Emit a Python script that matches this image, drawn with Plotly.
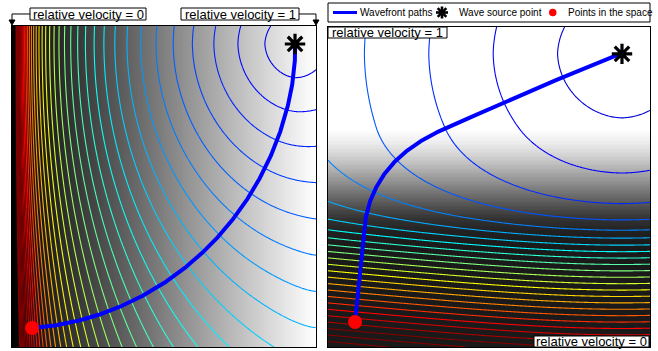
import numpy as np
import plotly.graph_objects as go

# ---------------- data ----------------
# Left panel: relative velocity varies along x (0 at left edge, 1 at right edge)
left_vel_x = [0.0, 1.0]
left_vel = [0.0, 1.0]
left_source = [0.931, 0.944]
left_point = [0.066, 0.059]
left_level_step = 0.113
left_level_max = 4.5
left_color_lo, left_color_hi = -0.3, 3.7

# Right panel: relative velocity varies along y (slow at bottom, 1 at top)
right_vel_y = [0.00, 0.30, 0.33, 0.36, 0.40, 0.44, 0.48, 0.52, 0.56, 0.60, 0.64, 0.68, 1.00]
right_vel = [0.10, 0.10, 0.11, 0.13, 0.20, 0.32, 0.45, 0.58, 0.71, 0.83, 0.93, 1.00, 1.00]
right_source = [0.913, 0.916]
right_point = [0.084, 0.078]
right_level_step = 0.2
right_level_max = 6.0
right_color_lo, right_color_hi = -0.2, 4.6

legend_names = ["Wavefront paths", "Wave source point", "Points in the space"]
label_left0 = "relative velocity = 0"
label_left1 = "relative velocity = 1"
label_right1 = "relative velocity = 1"
label_right0 = "relative velocity = 0"

# ---------------- computation ----------------
N = 241
grid = np.linspace(0.0, 1.0, N)
h = grid[1] - grid[0]
GX, GY = np.meshgrid(grid, grid)


def solve_eikonal(speed, src):
    s = 1.0 / np.maximum(speed, 0.002)
    T = np.full(s.shape, np.inf)
    d = np.hypot(GX - src[0], GY - src[1])
    fixed = d <= 2.5 * h
    j0 = int(round(src[1] / h)); i0 = int(round(src[0] / h))
    s0 = s[j0, i0]
    T[fixed] = d[fixed] * 0.5 * (s[fixed] + s0)
    hs = h * s
    for _ in range(6000):
        P = np.pad(T, 1, constant_values=np.inf)
        a = np.minimum(P[1:-1, :-2], P[1:-1, 2:])
        b = np.minimum(P[:-2, 1:-1], P[2:, 1:-1])
        lo = np.minimum(a, b)
        hi = np.maximum(a, b)
        with np.errstate(invalid="ignore"):
            diff = hi - lo
            disc = 2.0 * hs * hs - diff * diff
            two = 0.5 * (a + b + np.sqrt(np.maximum(disc, 0.0)))
            one_sided = (~np.isfinite(hi)) | (diff >= hs)
        cand = np.where(one_sided, lo + hs, two)
        Tn = np.where(fixed, T, np.minimum(T, cand))
        with np.errstate(invalid="ignore"):
            changed = np.any(Tn < T - 1e-11)
        T = Tn
        if not changed:
            break
    return T


def trace_path(T, start, src):
    gy, gx = np.gradient(T, h)

    def interp(F, x, y):
        fx, fy = x / h, y / h
        i = int(np.clip(np.floor(fx), 0, N - 2))
        j = int(np.clip(np.floor(fy), 0, N - 2))
        tx, ty = fx - i, fy - j
        return (F[j, i] * (1 - tx) * (1 - ty) + F[j, i + 1] * tx * (1 - ty)
                + F[j + 1, i] * (1 - tx) * ty + F[j + 1, i + 1] * tx * ty)

    p = np.array(start, dtype=float)
    xs, ys = [p[0]], [p[1]]
    step = 0.4 * h
    for _ in range(20000):
        if np.hypot(p[0] - src[0], p[1] - src[1]) < 2 * h:
            break
        g = np.array([interp(gx, p[0], p[1]), interp(gy, p[0], p[1])])
        n = np.hypot(g[0], g[1])
        if not np.isfinite(n) or n == 0:
            break
        p = p - step * g / n
        p = np.clip(p, 0, 1)
        xs.append(p[0]); ys.append(p[1])
    xs.append(src[0]); ys.append(src[1])
    return xs, ys


def jet(v):
    v = min(max(v, 0.0), 1.0)
    r = min(max(1.5 - abs(4 * v - 3), 0), 1)
    g = min(max(1.5 - abs(4 * v - 2), 0), 1)
    b = min(max(1.5 - abs(4 * v - 1), 0), 1)
    return "rgb(%d,%d,%d)" % (round(r * 255), round(g * 255), round(b * 255))


def level_colorscale(levels, lo, hi):
    L0, L1 = levels[0], levels[-1]
    cs = []
    for L in levels:
        cs.append([(L - L0) / (L1 - L0), jet((L - lo) / (hi - lo))])
    cs[0][0] = 0.0
    cs[-1][0] = 1.0
    return cs


speed_left = np.interp(GX, left_vel_x, left_vel)
speed_right = np.interp(GY, right_vel_y, right_vel)

T_left = solve_eikonal(speed_left, left_source)
T_right = solve_eikonal(speed_right, right_source)

path_left = trace_path(T_left, left_point, left_source)
path_right = trace_path(T_right, right_point, right_source)

lev_left = np.arange(left_level_step, left_level_max + 1e-9, left_level_step)
lev_right = np.arange(right_level_step, right_level_max + 1e-9, right_level_step)

gray = [[0, "rgb(0,0,0)"], [1, "rgb(255,255,255)"]]

fig = go.Figure()

panels = [
    ("x", "y", speed_left, T_left, lev_left, left_color_lo, left_color_hi, path_left,
     left_source, left_point),
    ("x2", "y2", speed_right, T_right, lev_right, right_color_lo, right_color_hi, path_right,
     right_source, right_point),
]

for xa, ya, spd, T, lev, clo, chi, path, src, pt in panels:
    fig.add_trace(go.Heatmap(x=grid, y=grid, z=spd, colorscale=gray, zmin=0, zmax=1,
                             showscale=False, hoverinfo="skip", xaxis=xa, yaxis=ya))
    fig.add_trace(go.Contour(x=grid, y=grid, z=T,
                             contours=dict(start=float(lev[0]), end=float(lev[-1]),
                                           size=float(lev[1] - lev[0]), coloring="lines",
                                           showlabels=False),
                             autocontour=False,
                             colorscale=level_colorscale(lev, clo, chi),
                             zmin=float(lev[0]), zmax=float(lev[-1]),
                             line=dict(width=1.1, smoothing=1), showscale=False,
                             hoverinfo="skip", xaxis=xa, yaxis=ya))
    fig.add_trace(go.Scatter(x=path[0], y=path[1], mode="lines",
                             line=dict(color="rgb(0,0,255)", width=4),
                             name=legend_names[0], showlegend=False, xaxis=xa, yaxis=ya))
    fig.add_trace(go.Scatter(x=[src[0]], y=[src[1]], mode="markers",
                             marker=dict(symbol="asterisk-open", size=17, color="black",
                                         line=dict(width=3.2, color="black")),
                             name=legend_names[1], showlegend=False, xaxis=xa, yaxis=ya))
    fig.add_trace(go.Scatter(x=[pt[0]], y=[pt[1]], mode="markers",
                             marker=dict(symbol="circle", size=14, color="rgb(255,0,0)"),
                             name=legend_names[2], showlegend=False, xaxis=xa, yaxis=ya))

W, H = 658, 351


def X(px):
    return px / W


def Y(py):
    return 1 - py / H


ax_common = dict(range=[0, 1], showgrid=False, zeroline=False, showticklabels=False,
                 ticks="", showline=True, linecolor="black", linewidth=1, mirror=True)

shapes = []
annotations = []
LABEL_FONT = dict(family="Liberation Sans, Arial, sans-serif", size=13, color="black")
LEGEND_FONT = dict(family="Liberation Sans, Arial, sans-serif", size=10, color="black")


def label_box(x0, y0, x1, y1, text):
    shapes.append(dict(type="rect", xref="paper", yref="paper", x0=X(x0), x1=X(x1),
                       y0=Y(y1), y1=Y(y0), fillcolor="white",
                       line=dict(color="black", width=1), layer="above"))
    annotations.append(dict(xref="paper", yref="paper", x=X((x0 + x1) / 2), y=Y((y0 + y1) / 2),
                            text=text, showarrow=False, xanchor="center", yanchor="middle",
                            font=LABEL_FONT))


def elbow(pts):
    d = "M " + " L ".join("%f,%f" % (X(a), Y(b)) for a, b in pts)
    shapes.append(dict(type="path", xref="paper", yref="paper", path=d,
                       line=dict(color="black", width=1)))


def arrow_down(xc, ytip):
    d = "M %f,%f L %f,%f L %f,%f Z" % (X(xc - 3), Y(ytip - 5), X(xc + 3), Y(ytip - 5),
                                       X(xc), Y(ytip))
    shapes.append(dict(type="path", xref="paper", yref="paper", path=d,
                       fillcolor="black", line=dict(color="black", width=1)))


elbow([(30, 14), (12, 14), (12, 21)])
arrow_down(12, 25)
elbow([(299, 14), (316, 14), (316, 21)])
arrow_down(316, 25)
label_box(30, 8, 146, 20, label_left0)
label_box(181, 8, 299, 20, label_left1)
label_box(328, 27, 447, 38, label_right1)
label_box(534, 336, 649, 347, label_right0)

# ---- legend box (drawn as layout decoration) ----
LY = 12.5
shapes.append(dict(type="rect", xref="paper", yref="paper", x0=X(328), x1=X(650),
                   y0=Y(22), y1=Y(3), fillcolor="white", line=dict(color="black", width=1)))
shapes.append(dict(type="line", xref="paper", yref="paper", x0=X(333), x1=X(357),
                   y0=Y(LY), y1=Y(LY), line=dict(color="rgb(0,0,255)", width=3)))
ac, ar = 442, 6.0
for dx, dy in [(ar, 0), (0, ar), (ar * 0.72, ar * 0.72), (ar * 0.72, -ar * 0.72)]:
    shapes.append(dict(type="line", xref="paper", yref="paper", x0=X(ac - dx), x1=X(ac + dx),
                       y0=Y(LY - dy), y1=Y(LY + dy), line=dict(color="black", width=2.6)))
shapes.append(dict(type="circle", xref="paper", yref="paper", x0=X(549), x1=X(556.5),
                   y0=Y(16.3), y1=Y(8.8), fillcolor="rgb(255,0,0)", line=dict(width=0)))
for xt, name in zip([358, 457, 565.5], legend_names):
    annotations.append(dict(xref="paper", yref="paper", x=X(xt), y=Y(LY + 0.3), text=name,
                            showarrow=False, xanchor="left", yanchor="middle",
                            font=LEGEND_FONT))

fig.update_layout(
    width=W, height=H, margin=dict(l=0, r=0, t=0, b=0, pad=0, autoexpand=False),
    paper_bgcolor="white", plot_bgcolor="white",
    xaxis=dict(domain=[X(12), X(316)], anchor="y", **ax_common),
    yaxis=dict(domain=[Y(347), Y(26)], anchor="x", **ax_common),
    xaxis2=dict(domain=[X(328), X(650)], anchor="y2", **ax_common),
    yaxis2=dict(domain=[Y(347), Y(27)], anchor="x2", **ax_common),
    shapes=shapes, annotations=annotations,
    showlegend=False,
)

fig.write_html("out.html", config={"displayModeBar": False},
               post_script="document.body.style.margin='0';")
